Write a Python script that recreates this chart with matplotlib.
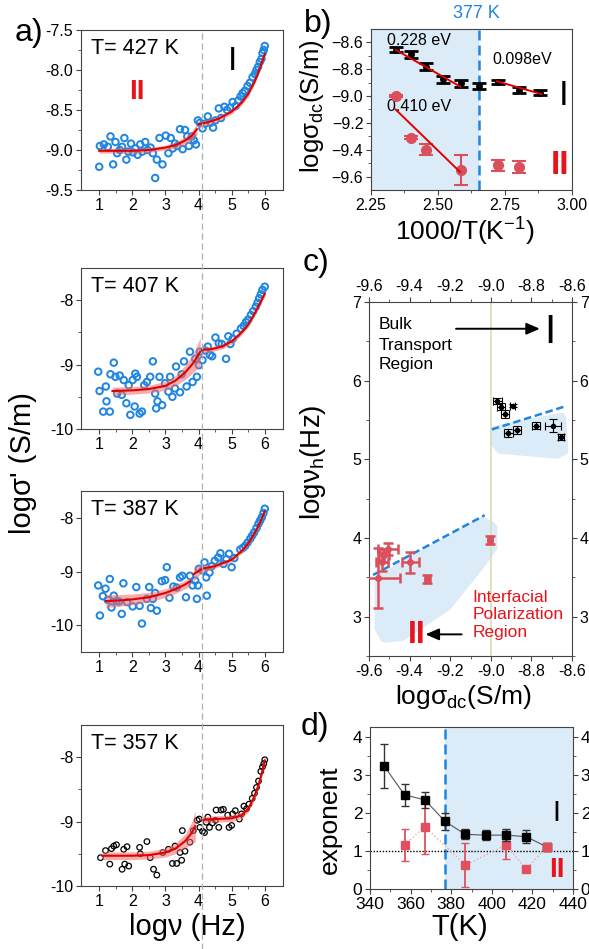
import numpy as np
import matplotlib
matplotlib.use('Agg')
import matplotlib.pyplot as plt
from matplotlib.patches import Polygon
from matplotlib.lines import Line2D

plt.rcParams['font.family'] = ['Liberation Sans', 'DejaVu Sans']
plt.rcParams['mathtext.fontset'] = 'custom'
plt.rcParams['mathtext.rm'] = 'Liberation Sans'
plt.rcParams['mathtext.it'] = 'Liberation Sans:italic'

W, H = 589, 949
BLUE = '#1e86e0'
RED = '#e8141c'
PINK = '#d9505c'
SHADE = '#dcebf8'

# ---- panel a: conductivity spectra at four temperatures ----
a_temps = ['427', '407', '387', '357']
a_ylims = [(-9.5, -7.5), (-10, -7.5), (-10.5, -7.5), (-10, -7.5)]

a1_x = [1.0, 1.02, 1.14, 1.26, 1.34, 1.42, 1.49, 1.54, 1.62, 1.69, 1.76, 1.82, 1.88, 1.96, 2.02,
        2.09, 2.16, 2.24, 2.30, 2.39, 2.46, 2.55, 2.62, 2.69, 2.74, 2.82, 2.91, 3.01, 3.09, 3.16,
        3.22, 3.29, 3.36, 3.44, 3.52, 3.59, 3.66, 3.71, 3.80, 3.86, 3.92, 3.98, 4.04, 4.12, 4.20,
        4.28, 4.36, 4.44, 4.51, 4.61, 4.68, 4.78, 4.86, 4.95, 5.03, 5.12, 5.20, 5.27, 5.33, 5.40,
        5.48, 5.55, 5.63, 5.70, 5.75, 5.80, 5.85, 5.90, 5.93, 5.97, 6.0]
a1_y = [-9.21, -8.95, -8.93, -8.96, -8.83, -9.18, -8.90, -9.04, -9.0, -8.96, -8.85, -9.12, -9.02,
        -8.92, -9.03, -8.98, -9.06, -8.93, -9.02, -8.90, -9.0, -8.97, -9.04, -9.35, -9.12, -8.85,
        -9.18, -8.82, -9.04, -8.85, -8.98, -8.92, -8.95, -8.74, -8.99, -8.75, -8.83, -8.95, -8.83,
        -8.88, -8.93, -8.63, -8.66, -8.73, -8.67, -8.58, -8.66, -8.72, -8.63, -8.48, -8.60, -8.46,
        -8.50, -8.47, -8.40, -8.45, -8.38, -8.33, -8.29, -8.26, -8.20, -8.16, -8.09, -8.05, -8.0,
        -7.96, -7.90, -7.86, -7.79, -7.75, -7.70]
a1_fit2_x = [1.0, 1.5, 2.0, 2.5, 3.0, 3.3, 3.6, 3.8, 3.95]
a1_fit2_y = [-9.01, -9.01, -9.01, -9.0, -8.97, -8.94, -8.88, -8.82, -8.74]
a1_fit2_w = [0.03, 0.03, 0.03, 0.03, 0.03, 0.04, 0.05, 0.06, 0.07]
a1_fit1_x = [4.0, 4.3, 4.6, 5.0, 5.3, 5.5, 5.7, 5.85, 6.0]
a1_fit1_y = [-8.68, -8.65, -8.61, -8.52, -8.41, -8.30, -8.14, -7.98, -7.80]
a1_fit1_w = [0.04, 0.03, 0.03, 0.03, 0.03, 0.03, 0.03, 0.03, 0.03]

a2_x = [0.97, 1.01, 1.12, 1.2, 1.22, 1.32, 1.34, 1.44, 1.49, 1.54, 1.62, 1.68, 1.74, 1.82, 1.89,
        1.94, 2.01, 2.07, 2.09, 2.14, 2.22, 2.29, 2.36, 2.44, 2.54, 2.62, 2.69, 2.72, 2.76, 2.82,
        2.90, 2.99, 3.09, 3.14, 3.21, 3.29, 3.32, 3.44, 3.49, 3.56, 3.64, 3.74, 3.82, 3.90, 3.95,
        4.01, 4.04, 4.12, 4.20, 4.28, 4.34, 4.41, 4.51, 4.61, 4.70, 4.83, 4.90, 4.96, 5.03, 5.15,
        5.28, 5.36, 5.43, 5.50, 5.58, 5.65, 5.73, 5.78, 5.83, 5.88, 5.93, 6.0]
a2_y = [-9.11, -9.41, -9.73, -9.34, -9.57, -9.73, -9.15, -8.97, -9.19, -9.45, -9.17, -9.47, -9.24,
        -9.60, -9.32, -9.78, -9.24, -9.65, -9.14, -9.19, -9.76, -9.73, -9.32, -9.27, -9.19, -8.95,
        -9.45, -9.68, -9.57, -9.19, -9.63, -9.29, -9.42, -9.19, -9.50, -9.37, -9.03, -9.43, -9.15,
        -8.95, -9.34, -8.80, -9.27, -8.91, -9.19, -9.01, -8.80, -8.93, -8.78, -8.72, -8.85, -8.87,
        -8.58, -8.67, -8.68, -8.91, -8.56, -8.68, -8.60, -8.52, -8.44, -8.40, -8.34, -8.30, -8.23,
        -8.17, -8.10, -8.04, -7.97, -7.91, -7.84, -7.79]
a2_fit2_x = [1.4, 2.0, 2.5, 3.0, 3.3, 3.6, 3.85, 4.05]
a2_fit2_y = [-9.41, -9.40, -9.38, -9.33, -9.25, -9.12, -8.97, -8.80]
a2_fit2_w = [0.06, 0.06, 0.06, 0.07, 0.08, 0.11, 0.15, 0.22]
a2_fit1_x = [4.1, 4.4, 4.7, 5.0, 5.3, 5.5, 5.7, 5.85, 6.0]
a2_fit1_y = [-8.77, -8.76, -8.72, -8.64, -8.50, -8.38, -8.20, -8.05, -7.90]
a2_fit1_w = [0.05, 0.04, 0.04, 0.04, 0.04, 0.04, 0.04, 0.04, 0.04]

a3_x = [0.97, 1.02, 1.11, 1.19, 1.26, 1.32, 1.37, 1.44, 1.52, 1.60, 1.68, 1.73, 1.84, 2.01, 2.12,
        2.22, 2.29, 2.44, 2.51, 2.56, 2.62, 2.69, 2.74, 2.89, 2.99, 3.04, 3.12, 3.24, 3.34, 3.44,
        3.51, 3.62, 3.74, 3.82, 3.90, 3.95, 3.98, 4.01, 4.12, 4.18, 4.23, 4.25, 4.33, 4.40, 4.49,
        4.59, 4.66, 4.75, 4.84, 4.92, 5.0, 5.08, 5.26, 5.34, 5.41, 5.48, 5.56, 5.62, 5.68, 5.75,
        5.81, 5.86, 5.91, 5.96, 6.0]
a3_y = [-9.26, -9.82, -9.46, -9.32, -9.53, -9.14, -9.67, -9.45, -9.55, -9.56, -9.79, -9.22,
        -9.57, -9.65, -9.29, -9.64, -9.97, -9.51, -9.29, -9.68, -9.51, -9.40, -9.73, -9.18, -9.16,
        -8.92, -9.49, -9.28, -9.30, -9.11, -9.08, -9.48, -9.08, -9.26, -9.17, -9.51, -9.26, -8.95,
        -8.98, -8.83, -9.11, -9.45, -9.02, -8.90, -8.80, -8.74, -8.66, -8.86, -8.77, -8.67, -8.92,
        -8.75, -8.59, -8.56, -8.52, -8.46, -8.39, -8.33, -8.27, -8.19, -8.11, -8.05, -7.99, -7.91,
        -7.83]
a3_fit2_x = [1.2, 1.6, 2.0, 2.5, 3.0, 3.3, 3.6, 3.75]
a3_fit2_y = [-9.55, -9.54, -9.52, -9.48, -9.40, -9.33, -9.24, -9.18]
a3_fit2_w = [0.12, 0.11, 0.10, 0.09, 0.08, 0.08, 0.08, 0.08]
a3_fit1_x = [3.85, 4.1, 4.5, 5.0, 5.3, 5.5, 5.7, 5.85, 6.0]
a3_fit1_y = [-9.05, -8.95, -8.90, -8.78, -8.62, -8.48, -8.28, -8.10, -7.88]
a3_fit1_w = [0.13, 0.07, 0.04, 0.04, 0.04, 0.04, 0.04, 0.04, 0.04]

a4_x = [1.04, 1.19, 1.32, 1.37, 1.44, 1.52, 1.69, 1.74, 1.77, 1.84, 1.89, 2.22, 2.24, 2.44, 2.54,
        2.64, 2.74, 2.92, 3.09, 3.21, 3.29, 3.34, 3.44, 3.49, 3.51, 3.59, 3.74, 3.84, 3.96, 4.02,
        4.04, 4.12, 4.18, 4.23, 4.28, 4.33, 4.42, 4.51, 4.53, 4.61, 4.68, 4.75, 4.88, 4.92, 5.0,
        5.03, 5.11, 5.23, 5.30, 5.37, 5.45, 5.52, 5.62, 5.69, 5.75, 5.81, 5.88, 5.93, 5.97, 6.0]
a4_y = [-9.56, -9.45, -9.66, -9.42, -9.38, -9.36, -9.74, -9.43, -9.66, -9.39, -9.69, -9.40, -9.50,
        -9.31, -9.56, -9.74, -9.83, -9.48, -9.43, -9.65, -9.38, -9.65, -9.48, -9.60, -9.14, -9.46,
        -9.32, -9.14, -8.98, -8.96, -9.09, -9.15, -9.17, -9.01, -8.93, -9.09, -9.02, -8.98, -8.82,
        -9.09, -8.82, -8.81, -8.90, -9.09, -9.06, -8.88, -8.83, -8.96, -8.88, -8.76, -8.80, -8.73,
        -8.64, -8.56, -8.47, -8.37, -8.22, -8.15, -8.10, -8.04]
a4_fit2_x = [1.1, 1.5, 2.0, 2.5, 3.0, 3.3, 3.6, 3.8, 3.9]
a4_fit2_y = [-9.53, -9.53, -9.53, -9.52, -9.48, -9.42, -9.30, -9.17, -9.07]
a4_fit2_w = [0.06, 0.06, 0.06, 0.06, 0.07, 0.08, 0.11, 0.17, 0.24]
a4_fit1_x = [4.1, 4.5, 5.0, 5.3, 5.5, 5.65, 5.8, 5.9, 6.0]
a4_fit1_y = [-8.97, -8.96, -8.95, -8.90, -8.80, -8.65, -8.45, -8.27, -8.05]
a4_fit1_w = [0.05, 0.05, 0.05, 0.05, 0.05, 0.05, 0.05, 0.06, 0.07]

# ---- panel b: Arrhenius plot ----
b_T_blk = [427, 417, 407, 397, 387, 377, 367, 357, 347]
b_blk = [-8.655, -8.69, -8.78, -8.875, -8.905, -8.925, -8.895, -8.955, -8.975]
b_blk_err = [0.02, 0.025, 0.025, 0.025, 0.025, 0.025, 0.015, 0.02, 0.02]
b_T_red = [427, 417, 407, 387, 367, 357]
b_red = [-9.0, -9.31, -9.40, -9.55, -9.515, -9.53]
b_red_err = [0.01, 0.01, 0.04, 0.11, 0.04, 0.045]
b_fit_blk1 = ([2.342, 2.584], [-8.655, -8.93])
b_fit_blk2 = ([2.72, 2.886], [-8.89, -8.985])
b_fit_red = ([2.342, 2.582], [-9.10, -9.565])

# ---- panel c: hopping frequency vs dc conductivity ----
c_blk_x = [-8.967, -8.951, -8.929, -8.893, -8.913, -8.869, -8.776, -8.694, -8.654]
c_blk_y = [5.74, 5.67, 5.58, 5.68, 5.34, 5.37, 5.43, 5.43, 5.28]
c_blk_xerr = [0.02, 0.02, 0.02, 0.012, 0.02, 0.02, 0.02, 0.04, 0.015]
c_blk_yerr = [0.04, 0.04, 0.05, 0.02, 0.05, 0.05, 0.04, 0.08, 0.04]
c_red_x = [-9.556, -9.534, -9.527, -9.506, -9.396, -9.313, -9.004]
c_red_y = [3.49, 3.70, 3.78, 3.86, 3.69, 3.48, 3.97]
c_red_xerr = [0.107, 0.03, 0.025, 0.05, 0.04, 0.012, 0.012]
c_red_yerr = [0.38, 0.12, 0.08, 0.08, 0.13, 0.05, 0.05]
c_guide_hi = ([-8.995, -8.638], [5.38, 5.67])
c_guide_lo = ([-9.58, -9.03], [3.53, 4.29])
c_blob_hi = [(-8.975, 5.36), (-8.655, 5.52), (-8.645, 5.12), (-8.675, 5.08), (-8.95, 5.14), (-8.975, 5.22)]
c_blob_lo = [(-9.545, 3.47), (-9.04, 4.20), (-8.995, 4.13), (-8.995, 3.88), (-9.07, 3.62),
             (-9.22, 3.14), (-9.44, 2.76), (-9.52, 2.74), (-9.545, 2.86)]
c_bulk_lines = ['Bulk', 'Transport', 'Region']
c_bulk_base = [6.66, 6.39, 6.15]

# ---- panel d: exponent vs temperature ----
d_T_blk = [347, 357, 367, 377, 387, 397, 407, 417, 427]
d_blk = [3.24, 2.48, 2.35, 1.78, 1.44, 1.42, 1.42, 1.38, 1.11]
d_blk_err = [0.58, 0.29, 0.21, 0.23, 0.13, 0.13, 0.15, 0.18, 0.05]
d_T_red = [357, 367, 387, 407, 417, 427]
d_red = [1.16, 1.64, 0.63, 1.16, 0.52, 1.11]
d_red_err = [0.42, 0.73, 0.57, 0.37, 0.0, 0.05]


def rect(x0, y0, x1, y1):
    # pixel box (top-left origin) -> figure fraction rect
    return [x0 / W, 1 - y1 / H, (x1 - x0) / W, (y1 - y0) / H]


def ftext(x, y, s, **kw):
    fig.text(x / W, 1 - y / H, s, **kw)


def style(ax, fs=11.5):
    for sp in ax.spines.values():
        sp.set_color('#444444')
        sp.set_linewidth(0.8)
    ax.tick_params(which='both', direction='out', labelsize=fs, color='#444444', pad=2)
    ax.tick_params(which='major', length=3.5)
    ax.tick_params(which='minor', length=2)


fig = plt.figure(figsize=(W / 100, H / 100), dpi=100)

a_boxes = [(81, 30, 283, 190), (81, 268, 283, 429), (81, 491, 283, 652), (81, 725, 283, 886)]
a_sets = [
    (a1_x, a1_y, a1_fit2_x, a1_fit2_y, a1_fit2_w, a1_fit1_x, a1_fit1_y, a1_fit1_w),
    (a2_x, a2_y, a2_fit2_x, a2_fit2_y, a2_fit2_w, a2_fit1_x, a2_fit1_y, a2_fit1_w),
    (a3_x, a3_y, a3_fit2_x, a3_fit2_y, a3_fit2_w, a3_fit1_x, a3_fit1_y, a3_fit1_w),
    (a4_x, a4_y, a4_fit2_x, a4_fit2_y, a4_fit2_w, a4_fit1_x, a4_fit1_y, a4_fit1_w),
]
for i, (box, data, temp, ylim) in enumerate(zip(a_boxes, a_sets, a_temps, a_ylims)):
    ax = fig.add_axes(rect(*box))
    x, y, f2x, f2y, f2w, f1x, f1y, f1w = [np.array(v) for v in data]
    if i < 3:
        ax.scatter(x, y, s=22, facecolors='none', edgecolors=BLUE, linewidths=1.4, zorder=2)
    else:
        ax.scatter(x, y, s=16, facecolors='none', edgecolors='black', linewidths=0.9, zorder=2)
    for fx, fy, fw in [(f2x, f2y, f2w), (f1x, f1y, f1w)]:
        ax.fill_between(fx, fy - fw, fy + fw, color='#f26b6b', alpha=0.55, lw=0, zorder=3)
        ax.plot(fx, fy, color='#e00000', lw=1.5, zorder=4)
    ax.set_xlim(0.45, 6.55)
    ax.set_ylim(*ylim)
    ax.set_xticks([1, 2, 3, 4, 5, 6])
    ax.set_xticks(np.arange(1.5, 6.5, 1.0), minor=True)
    if i == 0:
        ax.set_yticks([-9.5, -9.0, -8.5, -8.0, -7.5])
        ax.set_yticks([-9.25, -8.75, -8.25, -7.75], minor=True)
        ax.set_yticklabels(['-9.5', '-9.0', '-8.5', '-8.0', '-7.5'])
    else:
        major = [v for v in [-10, -9, -8] if v >= ylim[0]]
        ax.set_yticks(major)
        ax.set_yticks(np.arange(ylim[0] + 0.5, -7.5, 1.0), minor=True)
        ax.set_yticklabels([str(v) for v in major])
    style(ax)
    ax.text(0.05, 0.95, f'T= {temp} K', transform=ax.transAxes, ha='left', va='top', fontsize=15.5)
    if i == 0:
        ax.text(2.15, -8.28, 'II', color=RED, fontsize=20, fontweight='bold', ha='center', va='center')
        ax.text(5.02, -7.9, 'I', color='black', fontsize=24, ha='center', va='center')

# gray dashed divider across panel a column
fig.add_artist(Line2D([202 / W, 202 / W], [1 - 33 / H, 0], color='#b0b0b0', lw=0.9,
                      ls=(0, (5, 3)), zorder=10))

ftext(29, 33, 'a)', fontsize=23, ha='center', va='center')
ftext(23, 463, "logσ' (S/m)", fontsize=21, rotation=90, ha='center', va='center')
ftext(187, 927, 'logν (Hz)', fontsize=21, ha='center', va='center')

# ---- panel b ----
axb = fig.add_axes(rect(371, 29, 572, 190))
axb.axvspan(2.25, 1000 / 377, color=SHADE, zorder=0, lw=0)
axb.axvline(1000 / 377, color=BLUE, ls=(0, (4, 2)), lw=1.8, zorder=1)
bx_blk = [1000 / t for t in b_T_blk]
bx_red = [1000 / t for t in b_T_red]
axb.errorbar(bx_blk, b_blk, yerr=b_blk_err, fmt='o', ms=4, color='black', ecolor='black',
             elinewidth=2, capsize=5, capthick=2, zorder=3)
axb.errorbar(bx_red, b_red, yerr=b_red_err, fmt='o', ms=7, color=PINK, ecolor=PINK,
             elinewidth=1.5, capsize=5, capthick=1.5, zorder=3)
for fx, fy in [b_fit_blk1, b_fit_blk2, b_fit_red]:
    axb.plot(fx, fy, color='#e00000', lw=1.4, zorder=4)
axb.text(2.43, -8.585, '0.228 eV', fontsize=11.5, ha='center', va='center')
axb.text(2.815, -8.725, '0.098eV', fontsize=11.5, ha='center', va='center')
axb.text(2.43, -9.08, '0.410 eV', fontsize=11.5, ha='center', va='center')
axb.text(2.97, -8.995, 'I', fontsize=25, ha='center', va='center')
axb.text(2.955, -9.52, 'II', color=RED, fontsize=24, fontweight='bold', ha='center', va='center')
axb.set_xlim(2.25, 3.0)
axb.set_ylim(-9.7, -8.5)
axb.set_xticks([2.25, 2.5, 2.75, 3.0])
axb.set_xticklabels(['2.25', '2.50', '2.75', '3.00'])
axb.set_xticks([2.375, 2.625, 2.875], minor=True)
axb.set_yticks([-9.6, -9.4, -9.2, -9.0, -8.8, -8.6])
axb.set_yticks([-9.5, -9.3, -9.1, -8.9, -8.7], minor=True)
style(axb)
ftext(476, 14, '377 K', color=BLUE, fontsize=13, ha='center', va='center')
ftext(318, 24, 'b)', fontsize=23, ha='center', va='center')
ftext(312, 106, 'logσ$_{\\mathrm{dc}}$(S/m)', fontsize=18.5, rotation=90, ha='center', va='center')
ftext(465, 232, '1000/T(K$^{\\mathrm{-1}}$)', fontsize=19, ha='center', va='center')

# ---- panel c ----
axc = fig.add_axes(rect(369, 302, 572, 656))
for pts in [c_blob_hi, c_blob_lo]:
    axc.add_patch(Polygon(pts, closed=True, facecolor=SHADE, edgecolor=SHADE, lw=8,
                          joinstyle='round', zorder=0))
axc.axvline(-9.0, color='#d9ddb5', lw=1.2, zorder=1)
for gx, gy in [c_guide_hi, c_guide_lo]:
    axc.plot(gx, gy, color=BLUE, ls=(0, (3, 1.5)), lw=1.8, zorder=2)
axc.errorbar(c_blk_x, c_blk_y, xerr=c_blk_xerr, yerr=c_blk_yerr, fmt='o', ms=3,
             color='black', ecolor='black', elinewidth=0.8, capsize=3, capthick=0.8, zorder=4)
axc.errorbar(c_red_x, c_red_y, xerr=c_red_xerr, yerr=c_red_yerr, fmt='o', ms=4,
             color=PINK, ecolor=PINK, elinewidth=1.8, capsize=3.5, capthick=1.8, zorder=4)
for s, yb in zip(c_bulk_lines, c_bulk_base):
    axc.text(-9.555, yb, s, fontsize=12.5, ha='left', va='baseline')
axc.annotate('', xy=(-8.745, 6.66), xytext=(-9.185, 6.66),
             arrowprops=dict(arrowstyle='-|>,head_length=0.8,head_width=0.35', color='black', lw=1.4))
axc.text(-8.71, 6.62, 'I', fontsize=29, ha='center', va='center')
axc.text(-9.09, 3.34, 'Interfacial\nPolarization\nRegion', color=RED, fontsize=12.5,
         ha='left', va='top', linespacing=1.2)
axc.annotate('', xy=(-9.335, 2.775), xytext=(-9.13, 2.775),
             arrowprops=dict(arrowstyle='-|>,head_length=0.8,head_width=0.35', color='black', lw=1.4))
axc.text(-9.365, 2.77, 'II', color=RED, fontsize=23, fontweight='bold', ha='center', va='center')
axc.set_xlim(-9.6, -8.6)
axc.set_ylim(2.5, 7)
axc.set_xticks([-9.6, -9.4, -9.2, -9.0, -8.8, -8.6])
axc.set_xticklabels(['-9.6', '-9.4', '-9.2', '-9.0', '-8.8', '-8.6'])
axc.set_xticks([-9.5, -9.3, -9.1, -8.9, -8.7], minor=True)
axc.set_yticks([3, 4, 5, 6, 7])
axc.set_yticks([2.5, 3.5, 4.5, 5.5, 6.5], minor=True)
style(axc)
axc.tick_params(which='both', top=True, right=True, labeltop=True, labelright=True)
ftext(316, 263, 'c)', fontsize=23, ha='center', va='center')
ftext(313, 462, 'logν$_{\\mathrm{h}}$(Hz)', fontsize=20, rotation=90, ha='center', va='center')
ftext(463, 697, 'logσ$_{\\mathrm{dc}}$(S/m)', fontsize=19, ha='center', va='center')

# ---- panel d ----
axd = fig.add_axes(rect(370, 727, 573, 889))
axd.axvspan(377, 440, color=SHADE, zorder=0, lw=0)
axd.axvline(377, color=BLUE, ls=(0, (4, 2)), lw=1.8, zorder=1)
axd.axhline(1.0, color='black', ls=(0, (1, 1.2)), lw=1.0, zorder=1)
axd.plot(d_T_red, d_red, color='#f2a5a8', ls=':', lw=1.0, zorder=2)
axd.plot(d_T_blk, d_blk, color='#555555', lw=0.8, zorder=2)
axd.errorbar(d_T_red, d_red, yerr=d_red_err, fmt='s', ms=6, color='#e0505e', ecolor='#e0505e',
             elinewidth=1.3, capsize=3, capthick=1.0, zorder=3)
axd.errorbar(d_T_blk, d_blk, yerr=d_blk_err, fmt='s', ms=6, color='black', ecolor='#333333',
             elinewidth=1.0, capsize=3, capthick=1.0, zorder=4)
axd.errorbar(d_T_red[-1:], d_red[-1:], fmt='s', ms=6, color='#e0505e', zorder=5)
axd.text(432, 2.0, 'I', fontsize=21, ha='center', va='center')
axd.text(432, 0.5, 'II', color=RED, fontsize=20, fontweight='bold', ha='center', va='center')
axd.set_xlim(340, 440)
axd.set_ylim(0, 4.27)
axd.set_xticks(range(340, 441, 20))
axd.set_xticks(range(350, 440, 20), minor=True)
axd.set_yticks([0, 1, 2, 3, 4])
axd.set_yticks([0.5, 1.5, 2.5, 3.5], minor=True)
style(axd, fs=12.5)
axd.tick_params(which='both', right=True, labelright=True)
ftext(315, 727, 'd)', fontsize=23, ha='center', va='center')
ftext(330, 820, 'exponent', fontsize=19, rotation=90, ha='center', va='center')
ftext(460, 927, 'T(K)', fontsize=21, ha='center', va='center')

fig.savefig('out.png', dpi=100, facecolor='white')
